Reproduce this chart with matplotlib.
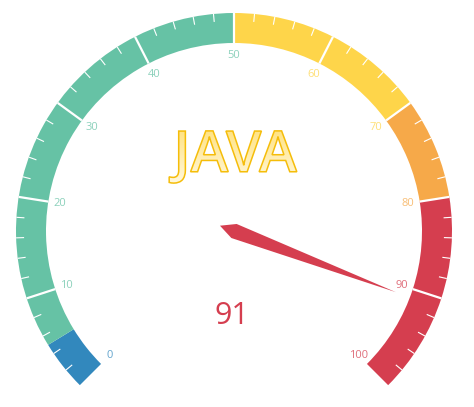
import numpy as np
import matplotlib.pyplot as plt
from matplotlib.patches import Wedge, Polygon, PathPatch
from matplotlib.textpath import TextPath
from matplotlib.font_manager import FontProperties
from matplotlib.transforms import Affine2D
from matplotlib.colors import LinearSegmentedColormap

# gauge data
title = "JAVA"
value = 91
band_edges = [0, 5, 50, 70, 80, 100]
band_colors = ["#3288bd", "#66c2a5", "#fed54a", "#f6a949", "#d53e4f"]
tick_values = [0, 10, 20, 30, 40, 50, 60, 70, 80, 90, 100]

# layout (pixels, y up)
W, H = 474, 407
cx, cy = 234, 407 - 231
r_out, r_in = 218, 188
start_ang, end_ang = 225, -45


def to_angle(v):
    return start_ang + (end_ang - start_ang) * v / 100.0


def color_for(v):
    for i in range(len(band_colors)):
        if v <= band_edges[i + 1]:
            return band_colors[i]
    return band_colors[-1]


fig = plt.figure(figsize=(W / 100, H / 100), dpi=100)
ax = fig.add_axes([0, 0, 1, 1])

# colored bands
for i, c in enumerate(band_colors):
    a1 = to_angle(band_edges[i + 1])
    a2 = to_angle(band_edges[i])
    ax.add_patch(Wedge((cx, cy), r_out, a1, a2, width=r_out - r_in,
                       facecolor=c, edgecolor="none"))

# split lines and minor ticks
for v in range(0, 101, 2):
    t = np.radians(to_angle(v))
    if v % 10 == 0:
        if v in (0, 100):
            continue
        r0, lw = r_in, 1.6
    else:
        r0, lw = r_out - 8, 0.8
    ax.plot([cx + r0 * np.cos(t), cx + r_out * np.cos(t)],
            [cy + r0 * np.sin(t), cy + r_out * np.sin(t)],
            color="white", lw=lw, solid_capstyle="butt")

# tick labels
for v in tick_values:
    t = np.radians(to_angle(v))
    ax.text(cx + 176 * np.cos(t), cy + 176 * np.sin(t), str(v),
            ha="center", va="center", fontsize=8, color=color_for(v),
            alpha=0.75, family="Open Sans")

# needle
t = np.radians(to_angle(value))
u = np.array([np.cos(t), np.sin(t)])
n = np.array([-np.sin(t), np.cos(t)])
c0 = np.array([cx, cy])
pts = [c0 - 15 * u, c0 + 7.5 * n, c0 + 173 * u, c0 - 7.5 * n]
ax.add_patch(Polygon(pts, closed=True, facecolor=color_for(value),
                     edgecolor="none", zorder=5))

# value text
ax.text(232, 407 - 316, str(value), ha="center", va="center",
        fontsize=22, color=color_for(value), family="Open Sans")

# title with gradient fill
fp = FontProperties(family="Open Sans", weight="semibold")
tp = TextPath((0, 0), title, size=57, prop=fp)
bb = tp.get_extents()
tx = 233 - (bb.x0 + bb.x1) / 2
ty = (407 - 157) - (bb.y0 + bb.y1) / 2
tp = Affine2D().translate(tx, ty).transform_path(tp)
bb = tp.get_extents()
grad = np.linspace(0, 1, 100).reshape(-1, 1)
cmap = LinearSegmentedColormap.from_list("g", ["#fff8dc", "#ffe384"])
img = ax.imshow(grad, cmap=cmap, extent=[bb.x0, bb.x1, bb.y0, bb.y1],
                origin="lower", aspect="auto", zorder=3)
patch = PathPatch(tp, facecolor="none", edgecolor="#f5bd0a", lw=1.1, zorder=4)
ax.add_patch(patch)
img.set_clip_path(patch)

ax.set_xlim(0, W)
ax.set_ylim(0, H)
ax.axis("off")
fig.savefig("out.png", dpi=100)
